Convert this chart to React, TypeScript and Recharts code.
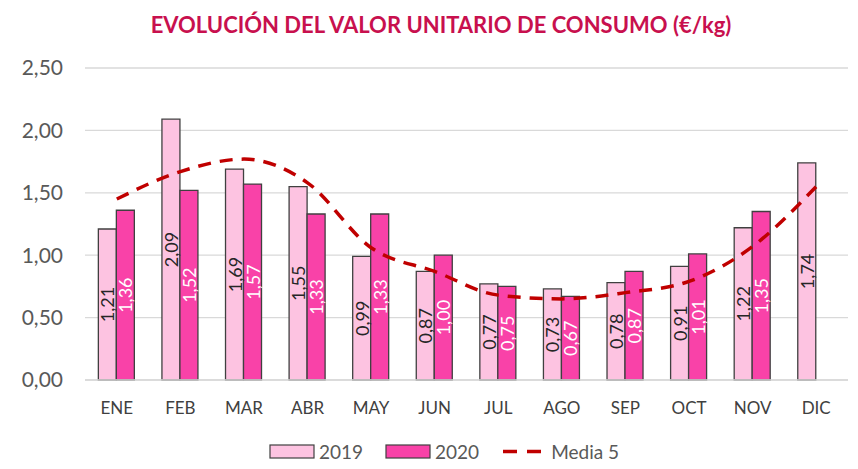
import React from "react";
import {
  ComposedChart,
  Bar,
  Line,
  XAxis,
  YAxis,
  CartesianGrid,
  LabelList,
  Legend,
} from "recharts";

const months = ["ENE", "FEB", "MAR", "ABR", "MAY", "JUN", "JUL", "AGO", "SEP", "OCT", "NOV", "DIC"];
const values2019 = [1.21, 2.09, 1.69, 1.55, 0.99, 0.87, 0.77, 0.73, 0.78, 0.91, 1.22, 1.74];
const values2020: (number | null)[] = [1.36, 1.52, 1.57, 1.33, 1.33, 1.0, 0.75, 0.67, 0.87, 1.01, 1.35, null];
const media5 = [1.45, 1.67, 1.77, 1.58, 1.06, 0.87, 0.68, 0.65, 0.7, 0.79, 1.07, 1.55];
const yTicks = [0, 0.5, 1, 1.5, 2, 2.5];

const data = months.map((m, i) => ({
  month: m,
  y2019: values2019[i],
  y2020: values2020[i],
  media: media5[i],
}));

const fmt = (v: number) => v.toFixed(2).replace(".", ",");
const FONT = "Lato, 'Open Sans', sans-serif";

const makeLabel = (color: string) => (props: any) => {
  const { x, y, width, height, value } = props;
  if (value === null || value === undefined) return null;
  const cx = Number(x) + Number(width) / 2;
  const cy = Number(y) + Number(height) / 2;
  return (
    <text
      x={cx}
      y={cy}
      transform={`rotate(-90 ${cx} ${cy})`}
      textAnchor="middle"
      dominantBaseline="central"
      fill={color}
      fontSize={18}
      fontFamily={FONT}
    >
      {fmt(Number(value))}
    </text>
  );
};

const legendItems = [
  { label: "2019", type: "rect", fill: "#FDC3E1" },
  { label: "2020", type: "rect", fill: "#F942A8" },
  { label: "Media 5", type: "line", fill: "#C00000" },
];

const CustomLegend = () => (
  <div
    style={{
      display: "flex",
      justifyContent: "center",
      alignItems: "center",
      gap: 22,
      fontFamily: FONT,
      fontSize: 19,
      color: "#595959",
      paddingLeft: 30,
    }}
  >
    {legendItems.map((it) => (
      <div key={it.label} style={{ display: "flex", alignItems: "center", gap: 4 }}>
        {it.type === "rect" ? (
          <svg width={46} height={15}>
            <rect x={1} y={1} width={44} height={13} fill={it.fill} stroke="#404040" strokeWidth={1.2} />
          </svg>
        ) : (
          <svg width={46} height={15}>
            <line x1={2} y1={7.5} x2={44} y2={7.5} stroke={it.fill} strokeWidth={3.5} strokeDasharray="14 10" />
          </svg>
        )}
        <span>{it.label}</span>
      </div>
    ))}
  </div>
);

export default function App() {
  return (
    <div style={{ position: "absolute", left: 0, top: 0, width: 858, height: 469, background: "#fff" }}>
      <div
        style={{
          position: "absolute",
          left: 0,
          top: 11,
          width: 882,
          textAlign: "center",
          fontFamily: FONT,
          fontWeight: 700,
          fontSize: 22,
          color: "#C8104E",
        }}
      >
        EVOLUCIÓN DEL VALOR UNITARIO DE CONSUMO (€/kg)
      </div>
      <ComposedChart
        width={858}
        height={469}
        data={data}
        margin={{ top: 68, right: 10, bottom: 36, left: 0 }}
        barCategoryGap="21%"
        barGap={0}
      >
        <CartesianGrid vertical={false} stroke="#d9d9d9" strokeWidth={1.3} />
        <XAxis
          dataKey="month"
          axisLine={{ stroke: "#d9d9d9", strokeWidth: 1.3 }}
          tickLine={false}
          tickSize={0}
          tickMargin={22}
          height={30}
          tick={{ fill: "#404040", fontSize: 17, fontFamily: FONT }}
        />
        <YAxis
          domain={[0, 2.5]}
          ticks={yTicks}
          axisLine={false}
          tickLine={false}
          tickSize={0}
          tickMargin={22}
          width={85}
          tickFormatter={fmt}
          tick={{ fill: "#595959", fontSize: 21, fontFamily: FONT }}
        />
        <Legend
          verticalAlign="bottom"
          content={<CustomLegend />}
          wrapperStyle={{ position: "absolute", left: 0, top: 440, width: 858 }}
        />
        <Bar dataKey="y2019" name="2019" fill="#FDC3E1" stroke="#404040" strokeWidth={1.3} isAnimationActive={false}>
          <LabelList dataKey="y2019" content={makeLabel("#262626")} />
        </Bar>
        <Bar dataKey="y2020" name="2020" fill="#F942A8" stroke="#404040" strokeWidth={1.3} isAnimationActive={false}>
          <LabelList dataKey="y2020" content={makeLabel("#ffffff")} />
        </Bar>
        <Line
          dataKey="media"
          name="Media 5"
          type="monotone"
          stroke="#C00000"
          strokeWidth={3.5}
          strokeDasharray="13 9"
          dot={false}
          activeDot={false}
          isAnimationActive={false}
        />
      </ComposedChart>
    </div>
  );
}
